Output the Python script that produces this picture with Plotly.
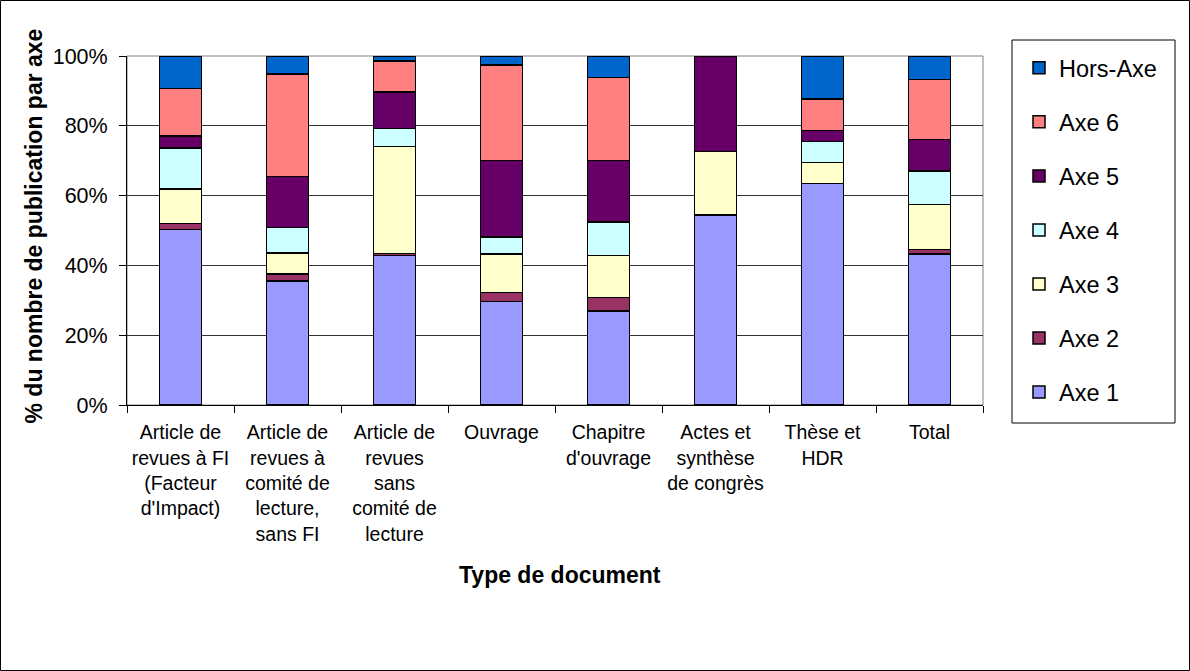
import plotly.graph_objects as go

categories = [
    "Article de<br>revues à FI<br>(Facteur<br>d'Impact)",
    "Article de<br>revues à<br>comité de<br>lecture,<br>sans FI",
    "Article de<br>revues<br>sans<br>comité de<br>lecture",
    "Ouvrage",
    "Chapitre<br>d'ouvrage",
    "Actes et<br>synthèse<br>de congrès",
    "Thèse et<br>HDR",
    "Total",
]

axe1 = [50.3, 35.6, 42.8, 29.6, 27.0, 54.5, 63.4, 43.3]
axe2 = [1.7, 1.9, 0.6, 2.6, 3.8, 0.0, 0.0, 1.3]
axe3 = [9.9, 6.1, 30.7, 11.1, 12.0, 18.1, 6.1, 12.8]
axe4 = [11.7, 7.2, 5.1, 4.9, 9.6, 0.0, 6.0, 9.6]
axe5 = [3.5, 14.7, 10.5, 21.8, 17.7, 27.4, 3.2, 9.1]
axe6 = [13.6, 29.3, 8.8, 27.4, 23.7, 0.0, 9.0, 17.1]
hors_axe = [9.3, 5.2, 1.5, 2.6, 6.2, 0.0, 12.3, 6.8]

series_names = ["Axe 1", "Axe 2", "Axe 3", "Axe 4", "Axe 5", "Axe 6", "Hors-Axe"]
series_values = [axe1, axe2, axe3, axe4, axe5, axe6, hors_axe]
series_colors = ["#9999FF", "#993366", "#FFFFCC", "#CCFFFF", "#660066", "#FF8080", "#0066CC"]

FONT = "Liberation Sans, Arial, sans-serif"

fig = go.Figure()
n = len(series_names)
for i, (name, vals, col) in enumerate(zip(series_names, series_values, series_colors)):
    fig.add_trace(go.Bar(
        x=categories, y=vals, name=name, legendgroup=name,
        legendrank=n - i,
        marker=dict(color=col, line=dict(color="black", width=1.5)),
    ))

W, H = 1190, 671
L, R, T, B = 127, 207, 56, 266
pw = W - L - R
ph = H - T - B

def px_x(x):
    return (x - L) / pw

def px_y(y):
    return (H - B - y) / ph

fig.update_layout(
    width=W, height=H,
    margin=dict(l=L, r=R, t=T, b=B, pad=0),
    barmode="stack",
    bargap=0.607,
    plot_bgcolor="white",
    paper_bgcolor="white",
    font=dict(family=FONT, size=19, color="black"),
    showlegend=True,
    legend=dict(
        x=px_x(1019), y=px_y(46), xanchor="left", yanchor="top",
        traceorder="grouped",
        font=dict(family=FONT, size=23.5, color="black"),
        bgcolor="rgba(0,0,0,0)", borderwidth=0,
        tracegroupgap=20.5,
        maxheight=600,
    ),
    xaxis=dict(
        type="category",
        tickson="boundaries",
        ticks="outside", ticklen=7, tickcolor="black", tickwidth=1,
        showline=True, linecolor="black", linewidth=1,
        showgrid=False,
        tickfont=dict(family=FONT, size=19.5, color="black"),
        ticklabelstandoff=10,
        fixedrange=True,
    ),
    yaxis=dict(
        range=[0, 100], dtick=20, ticksuffix="%",
        ticks="outside", ticklen=7, tickcolor="black", tickwidth=1,
        showline=True, linecolor="black", linewidth=1,
        showgrid=True, gridcolor="#333333", gridwidth=1,
        zeroline=False,
        tickfont=dict(family=FONT, size=21.5, color="black"),
        ticklabelstandoff=7,
        fixedrange=True,
    ),
    annotations=[
        dict(text="<b>% du nombre de publication par axe</b>", xref="paper", yref="paper",
             x=px_x(33), y=px_y(226.5), textangle=-90, showarrow=False,
             font=dict(family=FONT, size=23, color="black"), xanchor="center", yanchor="middle"),
        dict(text="<b>Type de document</b>", xref="paper", yref="paper",
             x=px_x(560), y=px_y(575), showarrow=False,
             font=dict(family=FONT, size=23, color="black"), xanchor="center", yanchor="middle"),
    ],
    shapes=[
        dict(type="rect", xref="paper", yref="paper", x0=0, y0=0, x1=1, y1=1,
             line=dict(color="#808080", width=1), layer="below"),
        dict(type="rect", xref="paper", yref="paper",
             x0=px_x(1012), y0=px_y(423), x1=px_x(1175), y1=px_y(40),
             line=dict(color="black", width=1)),
        dict(type="rect", xref="paper", yref="paper",
             x0=px_x(0.5), y0=px_y(670.5), x1=px_x(1189.5), y1=px_y(0.5),
             line=dict(color="black", width=1)),
    ],
)

fig.write_html("out.html", config={"displayModeBar": False},
               post_script="document.body.style.margin='0px';document.body.style.overflow='hidden';")
